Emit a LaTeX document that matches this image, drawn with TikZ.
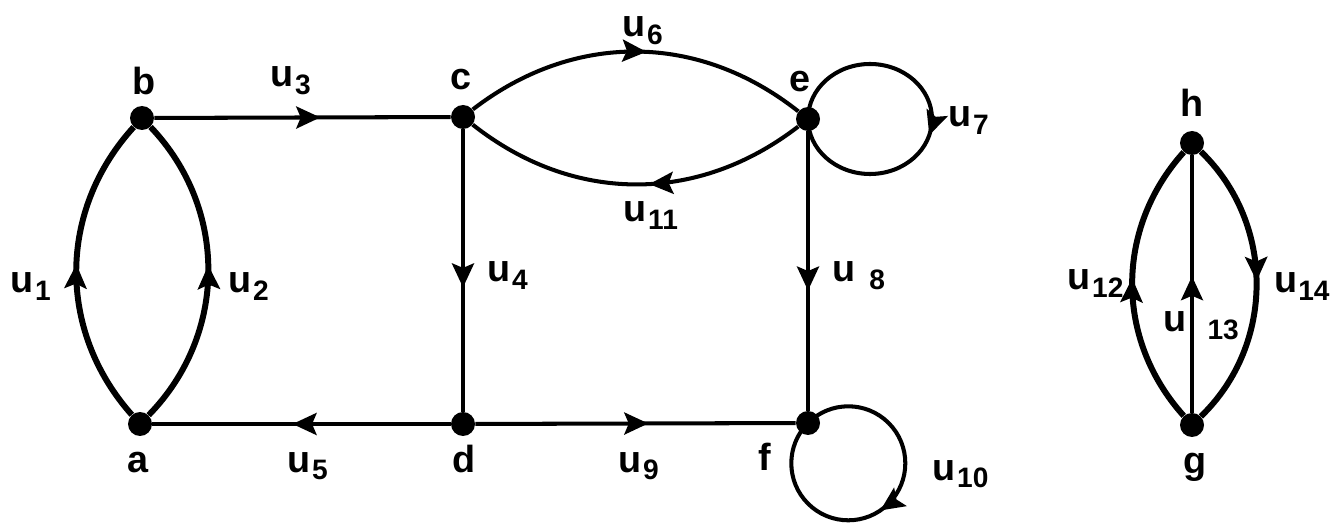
\documentclass[tikz,border=0pt]{standalone}
\usepackage{fontspec}
\setmainfont{Liberation Sans}
\usetikzlibrary{arrows.meta}
\usetikzlibrary{decorations.markings}

\newcommand{\ulab}[2][1pt]{u\hspace{#1}\raisebox{-4pt}{\fontsize{16}{18}\selectfont #2}}

\tikzset{
vertex/.style={circle, fill, inner sep=0pt, minimum size=0.48cm},
edge/.style={line width=2.3pt},
heavyedge/.style={line width=3.4pt},
lbl/.style={inner sep=0pt, anchor=base west, font=\fontsize{21.5}{24}\selectfont\bfseries},
midarrow/.style={postaction={decorate}, decoration={markings,
  mark=at position #1 with {\arrow{Stealth[length=0.48cm,width=0.44cm,inset=0.09cm]}}}}
}

\begin{document}
\begin{tikzpicture}[x=0.02cm, y=-0.02cm]
\useasboundingbox (0,0) rectangle (1335,523);

\node[vertex] (a) at (140,424) {};
\node[vertex] (b) at (142,118) {};
\node[vertex] (c) at (463,117) {};
\node[vertex] (d) at (463,424) {};
\node[vertex] (e) at (808,119) {};
\node[vertex] (f) at (808,423) {};
\node[vertex] (h) at (1192,143) {};
\node[vertex] (g) at (1192,425) {};

\draw[heavyedge, midarrow=0.52] (a) to[bend left=42] (b);
\draw[heavyedge, midarrow=0.52] (a) to[bend right=44] (b);
\draw[edge, midarrow=0.56] (b) -- (c);
\draw[edge, midarrow=0.56] (c) -- (d);
\draw[edge, midarrow=0.53] (d) -- (a);
\draw[edge, midarrow=0.53] (c) to[bend left=38] (e);
\draw[edge, midarrow=0.545] (e.center) arc[start angle=180, end angle=540, x radius=62, y radius=55];
\draw[edge, midarrow=0.57] (e) -- (f);
\draw[edge, midarrow=0.54] (d) -- (f);
\draw[edge, midarrow=0.53] (f.center) arc[start angle=225, end angle=585, radius=57];
\draw[edge, midarrow=0.46] (e) to[bend left=38] (c);

\draw[heavyedge, midarrow=0.52] (g) to[bend left=42] (h);
\draw[line width=1.8pt, midarrow=0.53] (g) -- (h);
\draw[heavyedge, midarrow=0.49] (h) to[bend left=46] (g);

\node[lbl] (la) at (127,472) {a};
\node[lbl] (lb) at (132,95) {b};
\node[lbl] (lc) at (450,90) {c};
\node[lbl] (ld) at (452,472) {d};
\node[lbl] (le) at (789,92) {e};
\node[lbl] (lf) at (758,470) {f};
\node[lbl] (lh) at (1180,117) {h};
\node[lbl] (lg) at (1183,473) {g};

\node[lbl] (u1) at (10,293) {\ulab{1}};
\node[lbl] (u2) at (228,293) {\ulab{2}};
\node[lbl] (u3) at (270,87) {\ulab{3}};
\node[lbl] (u4) at (487,282) {\ulab{4}};
\node[lbl] (u5) at (287,472) {\ulab{5}};
\node[lbl] (u6) at (622,37) {\ulab{6}};
\node[lbl] (u7) at (948,127) {\ulab{7}};
\node[lbl] (u8) at (832,282) {\ulab[8pt]{8}};
\node[lbl] (u9) at (618,472) {\ulab{9}};
\node[lbl] (u10) at (932,480) {\ulab{10}};
\node[lbl] (u11) at (623,222) {\ulab{11}};
\node[lbl] (u12) at (1067,290) {\ulab{12}};
\node[lbl] (u13) at (1163,332) {\ulab[12pt]{13}};
\node[lbl] (u14) at (1274,293) {\ulab[0.5pt]{14}};
\end{tikzpicture}
\end{document}
